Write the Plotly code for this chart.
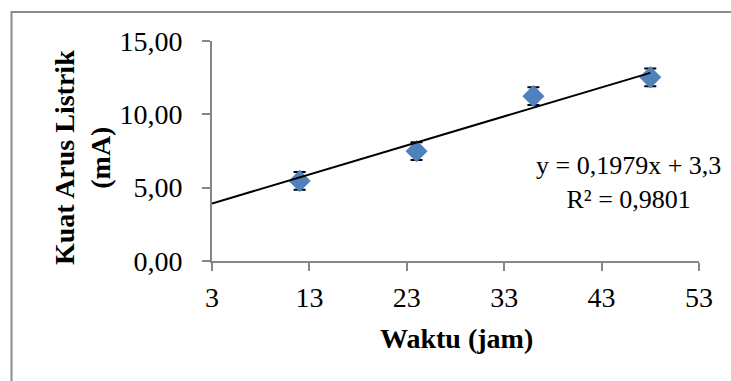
import plotly.graph_objects as go

# Data
waktu = [12, 24, 36, 48]
arus = [5.46, 7.49, 11.24, 12.52]
err = [0.6, 0.6, 0.6, 0.6]
slope = 0.1979
intercept = 3.33
r2 = 0.9801
trend_x = [3, 48]
x_ticks = [3, 13, 23, 33, 43, 53]
y_ticks = [0, 5, 10, 15]
eq_text = "y = 0,1979x + 3,3"
r2_text = "R² = 0,9801"

# plot-area pixel geometry
W, H = 731, 381
L, R, T, B = 212, 699, 41, 261
pw, ph = R - L, B - T

def px(xp):
    return (xp - L) / pw

def py(yp):
    return (B - yp) / ph

FONT = "Liberation Serif, Times New Roman, serif"
AXC = "#868686"

fig = go.Figure()
fig.add_trace(go.Scatter(
    x=waktu, y=arus, mode="markers",
    marker=dict(symbol="diamond", size=17, color="#4F81BD", line=dict(width=0)),
    error_y=dict(type="data", array=err, visible=True, color="black", thickness=2, width=6),
    showlegend=False, hoverinfo="skip"))
fig.add_trace(go.Scatter(
    x=trend_x, y=[slope * v + intercept for v in trend_x], mode="lines",
    line=dict(color="black", width=2), showlegend=False, hoverinfo="skip"))

fig.update_layout(
    width=W, height=H,
    margin=dict(l=L, r=W - R, t=T, b=H - B, pad=0),
    plot_bgcolor="white", paper_bgcolor="white",
    font=dict(family=FONT, size=28, color="black"),
    separators=",.",
    xaxis=dict(range=[3, 53], tickvals=x_ticks, ticktext=[str(v) for v in x_ticks],
               showgrid=False, zeroline=False, showline=True, linecolor=AXC, linewidth=2,
               ticks="outside", ticklen=8, tickwidth=2, tickcolor=AXC,
               ticklabelstandoff=2, tickfont=dict(size=28)),
    yaxis=dict(range=[0, 15], tickvals=y_ticks, tickformat=".2f",
               showgrid=False, zeroline=False, showline=True, linecolor=AXC, linewidth=2,
               ticks="outside", ticklen=8, tickwidth=2, tickcolor=AXC,
               ticklabelstandoff=14, tickfont=dict(size=28)),
    shapes=[dict(type="rect", xref="paper", yref="paper",
                 x0=px(11.5), x1=px(760), y0=py(420), y1=py(12),
                 line=dict(color="#8c8c8c", width=2), layer="below")],
    annotations=[
        dict(text="<b>Waktu (jam)</b>", xref="paper", yref="paper", x=px(456), y=py(338),
             showarrow=False, font=dict(size=28), xanchor="center", yanchor="middle"),
        dict(text="<b>Kuat Arus Listrik<br>(mA)</b>", xref="paper", yref="paper",
             x=px(82), y=py(158), textangle=-90, showarrow=False,
             font=dict(size=28), xanchor="center", yanchor="middle"),
        dict(text=eq_text + "<br>" + r2_text, xref="paper", yref="paper",
             x=px(628), y=py(182), align="center",
             showarrow=False, font=dict(size=26), xanchor="center", yanchor="middle"),
    ],
)

fig.write_html("out.html", post_script="document.body.style.margin='0';",
               config={"displayModeBar": False})
